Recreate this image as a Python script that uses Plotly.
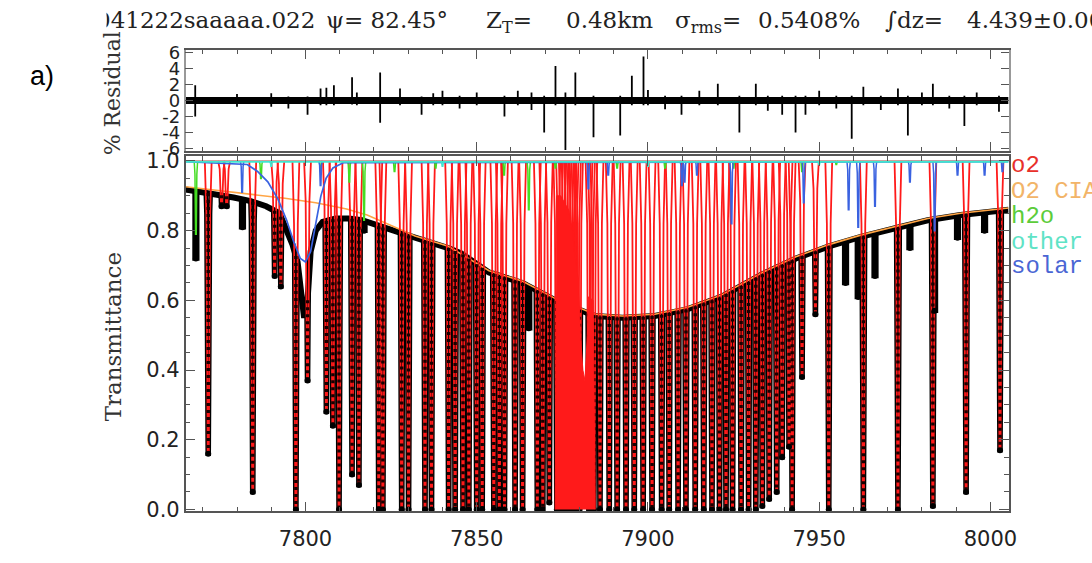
import plotly.graph_objects as go

# ---------------- data ----------------
# O2 absorption lines: centre wavenumber (cm-1), minimum transmittance and
# the level of the measured continuum at the line position
o2_nu = [7771.6, 7775.5, 7777.0, 7784.6, 7791.0, 7792.8, 7797.2, 7800.6, 7806.1, 7808.0,
         7809.8, 7813.6, 7815.6, 7821.4, 7822.6, 7828.1, 7830.1, 7834.9, 7836.8, 7841.8,
         7843.7, 7846.0, 7847.7, 7850.0, 7851.6, 7855.0, 7856.6, 7858.1, 7861.2, 7863.4,
         7867.7, 7869.3, 7871.2, 7873.4, 7874.2, 7875.0, 7875.8, 7876.6, 7877.3, 7878.0,
         7878.7, 7879.4, 7880.0, 7882.8, 7883.5, 7884.2, 7886.0, 7888.7, 7891.0, 7893.6,
         7896.0, 7898.6, 7901.2, 7904.0, 7906.2, 7908.8, 7911.1, 7913.8, 7916.3, 7918.7,
         7920.9, 7922.8, 7924.7, 7927.2, 7929.4, 7931.5, 7933.4, 7935.4, 7937.6, 7939.2,
         7941.2, 7942.1, 7945.0, 7948.9, 7952.8, 7962.9, 7973.0, 7983.2, 7992.9, 8002.8]
o2_min = [0.16, 0.87, 0.87, 0.05, 0.67, 0.64, 0.00, 0.37, 0.28, 0.24,
          0.00, 0.10, 0.07, 0.00, 0.00, 0.00, 0.00, 0.00, 0.00, 0.00,
          0.00, 0.00, 0.00, 0.00, 0.00, 0.00, 0.00, 0.00, 0.00, 0.00,
          0.00, 0.00, 0.02, 0.00, 0.00, 0.00, 0.00, 0.00, 0.00, 0.00,
          0.00, 0.00, 0.00, 0.00, 0.00, 0.00, 0.00, 0.00, 0.00, 0.00,
          0.00, 0.00, 0.00, 0.00, 0.00, 0.00, 0.00, 0.00, 0.00, 0.00,
          0.00, 0.00, 0.00, 0.00, 0.00, 0.00, 0.01, 0.03, 0.05, 0.15,
          0.18, 0.00, 0.38, 0.56, 0.00, 0.00, 0.00, 0.01, 0.05, 0.17]
o2_top = [0.908, 0.902, 0.899, 0.883, 0.857, 0.840, 0.727, 0.600, 0.828, 0.833,
          0.835, 0.834, 0.831, 0.813, 0.809, 0.792, 0.786, 0.771, 0.765, 0.750,
          0.742, 0.732, 0.720, 0.704, 0.693, 0.676, 0.670, 0.666, 0.657, 0.650,
          0.628, 0.619, 0.609, 0.598, 0.595, 0.592, 0.589, 0.586, 0.583, 0.580,
          0.578, 0.575, 0.573, 0.562, 0.559, 0.557, 0.554, 0.552, 0.551, 0.551,
          0.552, 0.553, 0.555, 0.559, 0.564, 0.569, 0.574, 0.583, 0.592, 0.600,
          0.608, 0.618, 0.628, 0.641, 0.653, 0.665, 0.675, 0.685, 0.694, 0.702,
          0.711, 0.715, 0.727, 0.741, 0.755, 0.784, 0.809, 0.832, 0.847, 0.857]

# Q-branch: upper envelope of the blended O2 absorption
q_env_nu = [7872.9, 7873.3, 7874.5, 7876.8, 7878.0, 7878.8, 7879.7, 7880.3, 7881.0,
            7881.6, 7882.3, 7882.6, 7884.0, 7884.6]
q_env_t = [0.00, 0.90, 0.90, 0.86, 0.80, 0.71, 0.66, 0.50, 0.40,
           0.37, 0.50, 0.61, 0.60, 0.00]

# upper envelope (continuum) of the measured spectrum
data_top_nu = [7765.0, 7774.0, 7779.0, 7784.0, 7788.5, 7792.4, 7794.3, 7796.2, 7797.7,
               7798.6, 7799.6, 7800.6, 7801.5, 7803.0, 7805.0, 7808.8, 7812.7, 7816.5,
               7822.3, 7832.0, 7841.7, 7845.5, 7853.6, 7863.4, 7873.0, 7884.6, 7892.5,
               7902.0, 7911.6, 7921.4, 7933.4, 7943.2, 7952.8, 7962.4, 7972.2, 7981.7,
               7991.3, 8005.3]
data_top_t = [0.918, 0.905, 0.895, 0.885, 0.870, 0.850, 0.810, 0.760, 0.710,
              0.620, 0.550, 0.600, 0.740, 0.800, 0.825, 0.835, 0.835, 0.830,
              0.810, 0.780, 0.750, 0.735, 0.680, 0.650, 0.600, 0.555, 0.550,
              0.555, 0.575, 0.610, 0.675, 0.720, 0.755, 0.783, 0.807, 0.830,
              0.845, 0.860]

# O2 collision-induced absorption
cia_nu = [7765.0, 7775.0, 7784.0, 7794.0, 7803.0, 7812.0, 7818.0, 7832.0, 7841.7,
          7853.6, 7863.4, 7873.0, 7884.6, 7892.5, 7902.0, 7911.6, 7921.4, 7933.4,
          7943.2, 7952.8, 7962.4, 7972.2, 7981.7, 7991.3, 8005.3]
cia_t = [0.926, 0.915, 0.905, 0.893, 0.880, 0.862, 0.845, 0.785, 0.755,
         0.685, 0.655, 0.605, 0.560, 0.555, 0.560, 0.580, 0.615, 0.680,
         0.725, 0.760, 0.788, 0.812, 0.835, 0.850, 0.865]

# non-O2 dips seen in the measured spectrum
dip_nu = [7768.0, 7781.6, 7817.1, 7865.2, 7957.7, 7961.4, 7966.3,
          7976.5, 7983.7, 7990.4, 7998.3]
dip_min = [0.72, 0.81, 0.80, 0.52, 0.65, 0.61, 0.67,
           0.75, 0.57, 0.78, 0.80]

# H2O lines
h2o_nu = [7768.0, 7787.0, 7804.4, 7812.8, 7817.1, 7826.0, 7838.0, 7858.0, 7865.2,
          7873.0, 7891.0, 7905.0, 7925.0, 7945.0, 7955.0]
h2o_min = [0.79, 0.95, 0.97, 0.94, 0.83, 0.97, 0.98, 0.96, 0.86,
           0.98, 0.98, 0.98, 0.98, 0.97, 0.99]

# solar lines (narrow)
solar_nu = [7781.5, 7804.4, 7882.6, 7888.4, 7909.9, 7910.7, 7914.3, 7924.4,
            7945.5, 7958.6, 7961.4, 7966.3, 7976.5, 7983.7, 7990.4, 7998.3, 8003.5]
solar_min = [0.91, 0.93, 0.92, 0.96, 0.93, 0.94, 0.96, 0.82,
             0.88, 0.86, 0.81, 0.87, 0.94, 0.80, 0.96, 0.96, 0.97]
# broad solar line near 7800 cm-1
solar_wide_nu = [7765.0, 7783.0, 7786.0, 7789.0, 7792.0, 7794.5, 7796.5, 7798.5, 7800.0,
                 7801.5, 7803.0, 7804.5, 7806.0, 7808.0, 7811.0, 8005.3]
solar_wide_t = [0.998, 0.990, 0.970, 0.940, 0.890, 0.830, 0.770, 0.720, 0.710,
                0.740, 0.820, 0.900, 0.950, 0.980, 0.995, 0.998]

# other gases
other_nu = [7790.0, 7840.0, 7900.0, 7950.0]
other_min = [0.985, 0.985, 0.985, 0.99]

# spectral fit residuals (%)
resid_nu = [7767.8, 7780.0, 7790.0, 7795.0, 7800.6, 7804.4, 7806.1, 7808.3, 7813.6,
            7815.0, 7821.8, 7827.6, 7833.9, 7837.3, 7840.0, 7845.0, 7850.0, 7858.1,
            7862.0, 7866.0, 7869.7, 7873.0, 7875.9, 7878.8, 7884.1, 7891.9, 7895.3,
            7898.7, 7900.0, 7905.0, 7909.8, 7915.0, 7920.4, 7926.7, 7931.5, 7935.0,
            7939.2, 7943.1, 7946.0, 7950.0, 7955.0, 7959.5, 7962.9, 7968.0, 7973.0,
            7975.9, 7980.0, 7983.2, 7988.0, 7992.4, 7996.0, 8002.5]
resid_hi = [1.9, 0.8, 0.9, 0.5, 0.5, 1.5, 1.6, 1.9, 2.9,
            1.0, 3.5, 1.5, 0.5, 0.9, 1.2, 0.6, 1.0, 0.6,
            1.2, 1.0, 0.6, 4.3, 1.0, 3.5, 0.6, 0.6, 3.1,
            5.5, 1.3, 0.6, 0.6, 1.2, 2.1, 0.6, 2.1, 0.6,
            0.6, 0.6, 0.6, 1.2, 0.6, 0.6, 1.7, 0.6, 1.5,
            0.6, 1.0, 2.1, 0.6, 0.6, 1.0, 0.6]
resid_lo = [-2.0, -0.8, -0.8, -1.0, -1.8, -0.6, -0.6, -0.6, -0.5,
            -0.6, -2.8, -0.6, -1.8, -0.6, -0.6, -1.0, -0.6, -2.0,
            -0.6, -1.2, -4.0, -0.6, -6.2, -0.6, -4.6, -4.4, -0.6,
            -0.6, -0.6, -1.1, -1.8, -0.6, -0.6, -4.0, -0.6, -1.3,
            -1.8, -4.0, -1.8, -0.6, -1.0, -4.8, -0.6, -1.2, -0.6,
            -4.4, -0.6, -0.6, -1.0, -3.2, -0.6, -1.4]

x_ticks = [7800, 7850, 7900, 7950, 8000]
t_ticks = [0.0, 0.2, 0.4, 0.6, 0.8, 1.0]
r_ticks = [-6, -4, -2, 0, 2, 4, 6]
legend_names = ["o2", "O2 CIA", "h2o", "other", "solar"]
legend_colors = ["#e8302a", "#f2b468", "#5ccc3a", "#5fe3c6", "#4a66d4"]

# title pieces and their left edges (px)
title_parts = ["041222saaaaa.022", "\u03c8= 82.45\u00b0", "Z<sub>T</sub>=", "0.48km",
               "\u03c3<sub>rms</sub>=", "0.5408%", "\u222bdz=", "4.439\u00b10.006"]
title_left = [95, 326, 488, 568, 678, 762, 890, 972]

# ---------------- styles / geometry ----------------
W, H = 1092, 563
X0, X1 = 7765.0, 8005.3
RED = "#ff1a1a"
ORANGE = "#ffa545"
GREEN = "#44dd22"
BLUE = "#3a62e0"
CYAN = "#40e6cf"
AXC = "#555555"


def px(x):
    return x / W


def py(y):
    return 1 - y / H


def profiles(centers, minima, half_top, half_bot, top=1.0):
    xs, ys = [], []
    for c, m in zip(centers, minima):
        knee = m + (top - m) * 0.82
        xs += [c - half_top, c - 0.55 * half_top, c - half_bot,
               c + half_bot, c + 0.55 * half_top, c + half_top, None]
        ys += [top, knee, m, m, knee, top, None]
    return xs, ys


def sticks(centers, lo, hi):
    xs, ys = [], []
    for c, a, b in zip(centers, lo, hi):
        xs += [c, c, None]
        ys += [a, b, None]
    return xs, ys


fig = go.Figure()

# ---- measured spectrum (black) ----
bx, by = profiles(o2_nu, o2_min, 1.0, 0.16)
fig.add_trace(go.Scatter(x=bx, y=by, mode="lines", line=dict(color="black", width=4.5),
                         xaxis="x", yaxis="y", hoverinfo="skip"))
dx, dy = profiles(dip_nu, dip_min, 0.7, 0.4)
fig.add_trace(go.Scatter(x=dx, y=dy, mode="lines", line=dict(color="black", width=4.5),
                         xaxis="x", yaxis="y", hoverinfo="skip"))
# hide the part of the measured profiles lying above its continuum
fig.add_trace(go.Scatter(x=data_top_nu + [X1 + 1, X0 - 1],
                         y=data_top_t + [1.03, 1.03],
                         fill="toself", fillcolor="white", mode="none",
                         xaxis="x", yaxis="y", hoverinfo="skip"))
fig.add_trace(go.Scatter(x=data_top_nu, y=data_top_t, mode="lines",
                         line=dict(color="black", width=6),
                         xaxis="x", yaxis="y", hoverinfo="skip"))

# ---- O2 CIA ----
fig.add_trace(go.Scatter(x=cia_nu, y=cia_t, mode="lines", line=dict(color=ORANGE, width=1.6),
                         xaxis="x", yaxis="y", hoverinfo="skip"))

# ---- O2 lines ----
rx, ry = profiles(o2_nu, o2_min, 1.0, 0.16)
fig.add_trace(go.Scatter(x=[X0, X1], y=[1.0, 1.0], mode="lines",
                         line=dict(color=RED, width=1.2), xaxis="x", yaxis="y", hoverinfo="skip"))
fig.add_trace(go.Scatter(x=rx, y=ry, mode="lines", line=dict(color=RED, width=1.8),
                         xaxis="x", yaxis="y", hoverinfo="skip"))
# measured points over the fitted lines (dotted, below the continuum only)
mx, my = sticks(o2_nu, o2_top, o2_min)
fig.add_trace(go.Scatter(x=mx, y=my, mode="lines",
                         line=dict(color="#1a0000", width=3.4, dash="3px,4px"),
                         xaxis="x", yaxis="y", hoverinfo="skip"))
fig.add_trace(go.Scatter(x=o2_nu + dip_nu, y=o2_min + dip_min, mode="markers",
                         marker=dict(color="black", size=6),
                         xaxis="x", yaxis="y", hoverinfo="skip"))
fig.add_trace(go.Scatter(x=q_env_nu, y=q_env_t, mode="lines", fill="toself",
                         fillcolor=RED, line=dict(color=RED, width=1),
                         xaxis="x", yaxis="y", hoverinfo="skip"))

# ---- H2O ----
gx, gy = profiles(h2o_nu, h2o_min, 0.5, 0.1)
fig.add_trace(go.Scatter(x=gx, y=gy, mode="lines", line=dict(color=GREEN, width=1.5),
                         xaxis="x", yaxis="y", hoverinfo="skip"))

# ---- solar ----
fig.add_trace(go.Scatter(x=solar_wide_nu, y=solar_wide_t, mode="lines",
                         line=dict(color=BLUE, width=1.7), xaxis="x", yaxis="y", hoverinfo="skip"))
sx, sy = profiles(solar_nu, solar_min, 0.5, 0.1)
fig.add_trace(go.Scatter(x=sx, y=sy, mode="lines", line=dict(color=BLUE, width=1.5),
                         xaxis="x", yaxis="y", hoverinfo="skip"))

# ---- other ----
ox, oy = profiles(other_nu, other_min, 0.5, 0.1, top=0.998)
fig.add_trace(go.Scatter(x=[X0, X1], y=[0.998, 0.998], mode="lines",
                         line=dict(color=CYAN, width=2), xaxis="x", yaxis="y", hoverinfo="skip"))
fig.add_trace(go.Scatter(x=ox, y=oy, mode="lines", line=dict(color=CYAN, width=1.4),
                         xaxis="x", yaxis="y", hoverinfo="skip"))

# ---- residuals ----
fig.add_trace(go.Scatter(x=[X0, X1], y=[0, 0], mode="lines", line=dict(color="black", width=7),
                         xaxis="x2", yaxis="y2", hoverinfo="skip"))
kx, ky = sticks(resid_nu, resid_lo, resid_hi)
fig.add_trace(go.Scatter(x=kx, y=ky, mode="lines", line=dict(color="black", width=1.8),
                         xaxis="x2", yaxis="y2", hoverinfo="skip"))

xdom = [px(187), px(1016)]
common_x = dict(ticks="inside", ticklen=10, tickwidth=1.2, tickcolor=AXC,
                showline=True, linecolor=AXC, linewidth=1.5, mirror="ticks",
                showgrid=False, zeroline=False, tickvals=x_ticks,
                minor=dict(ticks="inside", ticklen=5, tickwidth=1, tickcolor=AXC,
                           dtick=10, tick0=7800, showgrid=False))

fig.update_layout(
    width=W, height=H, margin=dict(l=0, r=0, t=0, b=0),
    paper_bgcolor="white", plot_bgcolor="white", showlegend=False,
    xaxis=dict(domain=xdom, anchor="y", range=[X0, X1],
               tickfont=dict(family="DejaVu Sans", size=21, color="#222"),
               ticklabelstandoff=8, **common_x),
    yaxis=dict(domain=[py(520), py(153)], anchor="x", range=[-0.0056, 1.014],
               tickvals=t_ticks, tickformat=".1f", ticks="inside", ticklen=10,
               tickwidth=1.2, tickcolor=AXC, showline=True, linecolor=AXC, linewidth=1.5,
               mirror="ticks", showgrid=False, zeroline=False,
               tickfont=dict(family="DejaVu Sans", size=21, color="#222"),
               minor=dict(ticks="inside", ticklen=5, tickcolor=AXC, dtick=0.05, tick0=0,
                          showgrid=False)),
    xaxis2=dict(domain=xdom, anchor="y2", matches="x", showticklabels=False, **common_x),
    yaxis2=dict(domain=[py(148), py(43)], anchor="x2", range=[-6.36, 6.36],
                tickvals=r_ticks, ticktext=[str(v) for v in r_ticks],
                ticks="inside", ticklen=8, tickwidth=1.2, tickcolor=AXC,
                showline=True, linecolor="#999999", linewidth=1.5, mirror="ticks",
                showgrid=False, zeroline=False,
                tickfont=dict(family="DejaVu Sans", size=18, color="#222")),
)

ann = []
for part, left in zip(title_parts, title_left):
    ann.append(dict(x=px(left), y=py(-3), xref="paper", yref="paper", text=part,
                    showarrow=False, xanchor="left", yanchor="top",
                    font=dict(family="DejaVu Serif", size=23, color="#222")))
# the reference title is cut at the left; cover the first glyph partly
ann.append(dict(x=0, y=1, xref="paper", yref="paper", text=" ", showarrow=False,
                xanchor="left", yanchor="top", width=103, height=34, bgcolor="white"))
ann.append(dict(x=px(42), y=py(70), xref="paper", yref="paper", text="a)",
                showarrow=False, xanchor="center", yanchor="middle",
                font=dict(family="Liberation Sans", size=27, color="black")))
ann.append(dict(x=px(114), y=py(340), xref="paper", yref="paper", text="Transmittance",
                showarrow=False, textangle=-90, xanchor="center", yanchor="middle",
                font=dict(family="DejaVu Serif", size=23, color="#333")))
ann.append(dict(x=px(113), y=py(88), xref="paper", yref="paper", text="% Residual",
                showarrow=False, textangle=-90, xanchor="center", yanchor="middle",
                font=dict(family="DejaVu Serif", size=22, color="#333")))
leg_y = [163, 190, 215, 242, 267]
for name, col, yy in zip(legend_names, legend_colors, leg_y):
    ann.append(dict(x=px(1016), y=py(yy), xref="paper", yref="paper", text=name,
                    showarrow=False, xanchor="left", yanchor="middle",
                    font=dict(family="Liberation Mono", size=24, color=col)))
fig.update_layout(annotations=ann)

fig.write_html("out.html", config={"displayModeBar": False},
               post_script="document.body.style.margin='0px';")
